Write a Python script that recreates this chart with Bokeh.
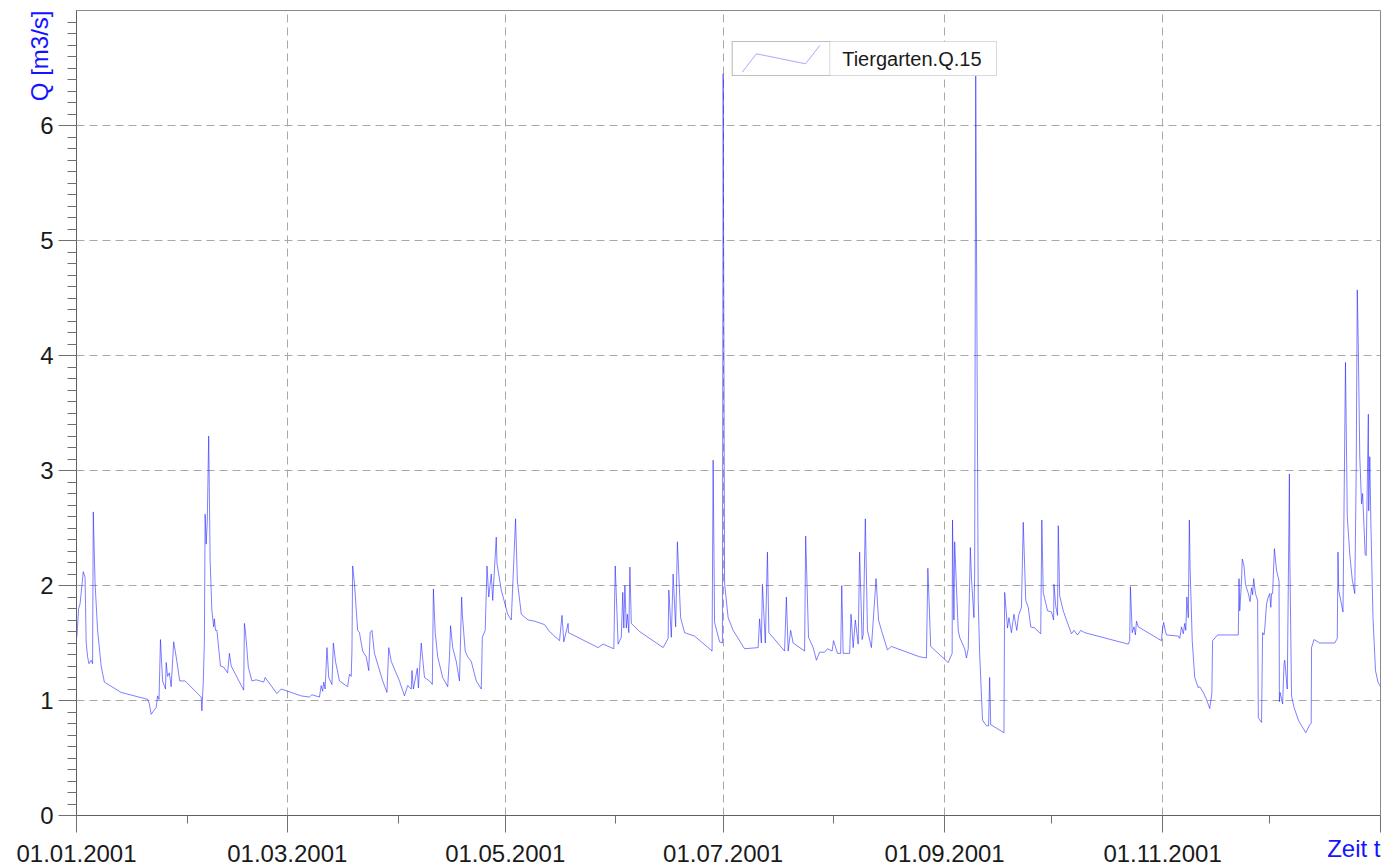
import pandas as pd
from bokeh.plotting import figure
from bokeh.models import (FixedTicker, CustomJSTickFormatter, Range1d, Label, Title,
                          BoxAnnotation, PolyAnnotation, ColumnDataSource)
from bokeh.embed import file_html
from bokeh.resources import INLINE

# ---------------- data (day offset from 01.01.2001, discharge Q in m3/s) ----------------
days = [
    0.1, 0.6, 1.0, 1.9, 2.4, 2.7, 3.1, 3.5, 4.1, 4.5, 4.7, 5.0, 5.2, 5.9, 6.9, 7.8, 12.5, 19.9, 20.4, 20.9,
    22.3, 22.7, 23.1, 23.5, 24.1, 24.9, 25.1, 25.5, 26.0, 26.5, 27.2, 27.9, 28.9, 30.4, 34.9, 35.1, 35.5, 35.8,
    36.0, 36.3, 36.6, 37.0, 37.4, 37.9, 38.4, 38.6, 38.9, 39.3, 40.3, 41.2, 42.3, 42.8, 43.3, 46.8, 47.0, 47.3,
    48.1, 49.1, 50.3, 52.4, 52.8, 56.1, 57.3, 62.9, 65.2, 65.9, 68.0, 68.5, 68.9, 69.2, 69.6, 70.1, 70.6, 71.5,
    71.9, 72.5, 73.6, 75.9, 76.4, 76.9, 77.1, 77.3, 77.8, 78.7, 79.2, 80.1, 81.1, 81.8, 82.2, 82.7, 83.4, 85.7,
    86.9, 87.4, 88.1, 90.4, 91.8, 92.7, 93.7, 93.9, 94.3, 95.4, 95.7, 96.5, 97.4, 98.8, 99.6, 99.9, 100.4, 101.1,
    102.5, 103.9, 104.4, 104.7, 105.3, 106.3, 107.2, 107.8, 108.0, 108.8, 109.5, 110.5, 111.9, 113.3, 113.6,
    114.4, 114.9, 115.4, 116.1, 116.5, 117.5, 117.7, 118.9, 120.7, 121.7, 122.9, 123.4, 124.5, 126.4, 128.2,
    131.0, 132.4, 135.2, 135.9, 136.4, 137.6, 137.7, 146.0, 147.4, 150.4, 150.8, 151.6, 152.5, 152.9, 153.2,
    153.5, 153.9, 154.2, 154.6, 154.9, 155.3, 157.6, 164.2, 165.6, 165.8, 166.5, 167.0, 167.7, 168.2, 169.1,
    170.2, 173.0, 176.8, 177.9, 178.2, 178.6, 180.0, 180.8, 181.0, 181.4, 182.4, 183.8, 187.0, 190.8, 191.2,
    191.7, 192.0, 192.8, 193.4, 193.8, 198.2, 198.7, 199.2, 199.9, 200.6, 203.8, 204.1, 204.9, 206.2, 207.1,
    208.0, 209.4, 210.2, 211.5, 211.9, 213.0, 213.9, 214.2, 214.6, 216.4, 216.8, 217.4, 218.0, 218.8, 219.2,
    219.9, 220.2, 220.8, 221.4, 222.5, 223.8, 224.5, 225.3, 227.0, 228.1, 236.0, 237.9, 238.3, 239.1, 244.0,
    245.1, 245.2, 245.6, 245.8, 246.8, 247.2, 248.6, 249.1, 249.6, 250.2, 250.5, 251.2, 251.4, 251.7, 252.4,
    252.8, 253.6, 254.7, 255.3, 255.6, 255.9, 259.6, 259.8, 260.6, 261.0, 261.7, 262.4, 263.2, 263.7, 264.5,
    265.0, 265.7, 266.4, 267.1, 268.2, 269.9, 270.2, 270.6, 271.8, 272.9, 273.5, 273.6, 274.1, 274.6, 274.8,
    275.2, 276.2, 277.1, 278.5, 279.2, 280.2, 281.1, 282.2, 294.4, 294.8, 295.0, 295.5, 296.0, 296.4, 296.7,
    297.2, 303.7, 303.9, 304.3, 304.8, 305.1, 308.4, 308.8, 309.3, 309.8, 310.2, 310.5, 310.8, 311.2, 311.5,
    311.7, 312.3, 313.0, 314.0, 314.4, 315.4, 316.3, 317.2, 317.8, 318.0, 319.4, 325.2, 325.4, 325.6, 326.1,
    326.3, 326.8, 327.2, 328.0, 328.5, 328.9, 329.2, 329.5, 330.0, 330.6, 330.8, 331.7, 332.0, 332.4, 332.6,
    333.1, 333.6, 334.0, 334.3, 334.5, 334.8, 335.3, 335.9, 336.6, 336.7, 336.9, 337.6, 338.0, 338.2, 338.9,
    339.5, 339.6, 340.1, 340.8, 342.0, 342.9, 344.1, 345.2, 345.6, 345.7, 346.4, 348.0, 352.2, 352.9, 353.1,
    353.3, 354.5, 354.8, 355.2, 355.7, 356.4, 357.1, 357.8, 358.2, 358.5, 358.8, 359.2, 359.7, 360.0, 360.7,
    361.0, 361.6, 361.7, 362.0, 362.3, 362.9, 363.6, 364.3, 365.0,
]
q = [
    1.55, 1.80, 1.84, 2.12, 2.07, 1.51, 1.38, 1.32, 1.35, 1.32, 2.64, 2.25, 2.02, 1.61, 1.30, 1.16, 1.07, 1.01, 0.97, 0.88,
    0.94, 1.04, 1.01, 1.53, 1.17, 1.10, 1.33, 1.21, 1.24, 1.12, 1.51, 1.38, 1.17, 1.17, 1.03, 0.91, 1.17, 1.52,
    2.62, 2.36, 2.55, 3.30, 2.22, 1.78, 1.64, 1.71, 1.61, 1.61, 1.30, 1.29, 1.24, 1.41, 1.30, 1.09, 1.67, 1.60,
    1.29, 1.17, 1.18, 1.16, 1.20, 1.06, 1.10, 1.04, 1.03, 1.05, 1.03, 1.13, 1.08, 1.16, 1.10, 1.46, 1.20, 1.14,
    1.50, 1.34, 1.17, 1.12, 1.23, 1.21, 1.43, 2.17, 2.02, 1.61, 1.59, 1.43, 1.38, 1.26, 1.59, 1.61, 1.41, 1.17,
    1.07, 1.46, 1.34, 1.17, 1.04, 1.13, 1.10, 1.26, 1.10, 1.28, 1.11, 1.50, 1.20, 1.17, 1.14, 1.97, 1.59, 1.38,
    1.20, 1.12, 1.38, 1.65, 1.46, 1.34, 1.17, 1.90, 1.75, 1.43, 1.38, 1.34, 1.17, 1.10, 1.55,
    1.61, 2.17, 1.90, 2.10, 1.87, 2.42, 2.19, 1.96, 1.75, 1.70, 2.58, 2.04, 1.75, 1.70, 1.69,
    1.66, 1.60, 1.52, 1.74, 1.51, 1.67, 1.59, 1.46, 1.49, 1.45, 2.17, 1.49, 1.55, 1.94, 1.63,
    2.00, 1.63, 1.75, 1.59, 2.16, 1.67, 1.60, 1.46, 1.54, 1.96, 1.55, 2.10, 1.64, 2.38, 1.72,
    1.59, 1.56, 1.46, 1.43, 3.09, 1.68, 1.51, 1.50, 6.45, 2.02, 1.72, 1.61, 1.45, 1.46, 1.71,
    1.50, 2.01, 1.50, 2.29, 1.59, 1.43, 1.90, 1.43, 1.61, 1.50, 1.43, 2.43, 1.55, 1.46, 1.35,
    1.42, 1.42, 1.45, 1.43, 1.52, 1.41, 1.41, 2.00, 1.41, 1.41, 1.75, 1.46, 1.70, 1.49, 2.29,
    1.53, 1.57, 2.58, 1.61, 1.46, 2.06, 1.70, 1.61, 1.44, 1.47, 1.38, 1.37, 2.15, 1.47, 1.33,
    1.41, 2.57, 1.70, 2.38, 1.61, 1.55, 1.45, 1.37, 1.45, 2.33, 2.07, 1.72, 2.09, 6.43, 1.87,
    1.41, 0.83, 0.78, 0.78, 1.20, 0.79, 0.72, 1.94, 1.63, 1.72, 1.59, 1.75, 1.61, 1.74, 1.81,
    2.55, 1.87, 1.81, 1.64, 1.63, 1.58, 2.57, 1.94, 1.78, 1.77, 1.70, 2.01, 1.82, 1.74, 2.52,
    1.91, 1.78, 1.70, 1.58, 1.61, 1.57, 1.61, 1.59, 1.49, 1.52, 1.99, 1.59, 1.64, 1.57, 1.69,
    1.64, 1.52, 1.60, 1.68, 1.60, 1.57, 1.56, 1.54, 1.64, 1.58, 1.67, 1.61, 1.90, 1.72, 2.57,
    2.16, 1.52, 1.20, 1.11, 1.12, 1.07, 1.01, 0.93, 1.06, 1.52, 1.57, 1.57, 2.06, 1.78, 2.04,
    2.23, 2.17, 2.01, 1.93, 1.86, 1.98, 1.92, 2.06, 1.93, 1.87, 0.85, 0.81, 1.59, 1.57, 1.62,
    1.84, 1.90, 1.93, 1.81, 1.93, 1.93, 2.32, 2.13, 2.04, 0.99, 1.07, 0.97, 1.32, 1.35, 1.10,
    2.97, 2.30, 1.04, 0.94, 0.83, 0.78, 0.72, 0.79, 0.80, 1.46, 1.53, 1.50, 1.50, 1.54, 2.29,
    1.96, 1.77, 2.70, 3.94, 2.60, 2.27, 2.05, 1.93, 3.00, 4.57, 4.05, 3.12, 2.71, 2.80, 2.27,
    2.26, 3.49, 2.65, 3.12, 2.55, 1.72, 1.26, 1.16, 1.12,
]

series_name = "Tiergarten.Q.15"
y_label = "Q [m3/s]"
x_label = "Zeit t"

x_tick_dates = ["2001-01-01", "2001-03-01", "2001-05-01", "2001-07-01", "2001-09-01", "2001-11-01", "2002-01-01"]
x_tick_labels = ["01.01.2001", "01.03.2001", "01.05.2001", "01.07.2001", "01.09.2001", "01.11.2001", ""]
x_minor_dates = ["2001-02-01", "2001-04-01", "2001-06-01", "2001-08-01", "2001-10-01", "2001-12-01"]
y_ticks = [0, 1, 2, 3, 4, 5, 6]

# ---------------- build ----------------
start = pd.Timestamp("2001-01-01")
dates = start + pd.to_timedelta(days, unit="D")
src = ColumnDataSource(data=dict(t=dates, q=q))

def ms(s):
    return float(pd.Timestamp(s).value // 10**6)

x_major = [ms(s) for s in x_tick_dates]
x_minor = [ms(s) for s in x_minor_dates]

FONT = "Liberation Sans"
BLUE_TXT = "#1414ff"

p = figure(width=1392, height=868, x_axis_type="datetime",
           output_backend="svg", toolbar_location=None,
           min_border_left=76, min_border_right=12, min_border_top=10, min_border_bottom=53)
p.x_range = Range1d(ms("2001-01-01"), ms("2002-01-01"))
p.y_range = Range1d(0, 7)

p.line("t", "q", source=src, line_color="#2020ff", line_width=0.8, line_alpha=0.72)

# axes
p.xaxis.ticker = FixedTicker(ticks=x_major, minor_ticks=x_minor)
p.xaxis.formatter = CustomJSTickFormatter(args=dict(tvals=x_major, tlabels=x_tick_labels), code="""
    let best = 0, bd = Infinity;
    for (let i = 0; i < tvals.length; i++) { const d = Math.abs(tvals[i] - tick); if (d < bd) { bd = d; best = i; } }
    return tlabels[best];
""")
y_minor = [round(i * 0.1, 1) for i in range(0, 71) if i % 10 != 0]
p.yaxis.ticker = FixedTicker(ticks=y_ticks, minor_ticks=y_minor)

for ax in (p.xaxis[0], p.yaxis[0]):
    ax.axis_line_color = "#606060"
    ax.major_tick_line_color = "#707070"
    ax.minor_tick_line_color = "#707070"
    ax.major_tick_in = 0
    ax.minor_tick_in = 0
    ax.major_label_text_font = FONT
    ax.major_label_text_font_size = "24px"
    ax.major_label_text_color = "#1a1a1a"

p.xaxis.major_tick_out = 17
p.xaxis.minor_tick_out = 8
p.xaxis.major_label_standoff = 12
p.yaxis.major_tick_out = 18
p.yaxis.minor_tick_out = 9
p.yaxis.major_label_standoff = 5

# x caption: axis label at the right end of the axis (centred on the end, so padded
# with trailing no-break spaces to make the visible words end at the axis end)
xa = p.xaxis[0]
xa.axis_label = x_label + "\u00a0" * 8
xa.axis_label_align = "end"
xa.axis_label_standoff = -30
xa.axis_label_text_font = FONT
xa.axis_label_text_font_size = "24px"
xa.axis_label_text_font_style = "normal"
xa.axis_label_text_color = BLUE_TXT

# y caption: right-aligned (top) title in the left panel
p.add_layout(Title(text=y_label, align="right", text_font=FONT, text_font_size="24px",
                   text_font_style="normal", text_color=BLUE_TXT, standoff=-30), "left")

# grid
for g in (p.xgrid[0], p.ygrid[0]):
    g.grid_line_color = "#a8a8a8"
    g.grid_line_dash = "8 5"
    g.grid_line_width = 1

p.outline_line_color = "#8a8a8a"
p.background_fill_color = "white"
p.border_fill_color = "white"

# legend (box with icon cell and text cell)
p.add_layout(BoxAnnotation(left=655.7, right=920, bottom=740, top=774,
                           left_units="screen", right_units="screen", bottom_units="screen", top_units="screen",
                           fill_color="white", fill_alpha=1.0, line_color="#808080", line_width=1))
p.add_layout(BoxAnnotation(left=655.7, right=753.3, bottom=740, top=774,
                           left_units="screen", right_units="screen", bottom_units="screen", top_units="screen",
                           fill_alpha=0.0, line_color="#808080", line_width=1))
p.add_layout(PolyAnnotation(xs=[665.7, 680, 729, 743.3, 729, 680], ys=[743.3, 761.7, 751.7, 770, 751.7, 761.7],
                            xs_units="screen", ys_units="screen",
                            fill_alpha=0.0, line_color="#6060ff", line_width=1))
p.add_layout(Label(x=765.7, y=757, x_units="screen", y_units="screen", text=series_name,
                   text_align="left", text_baseline="middle",
                   text_font=FONT, text_font_size="20px", text_color="#1a1a1a"))

open("out.html", "w").write(file_html(p, INLINE))
